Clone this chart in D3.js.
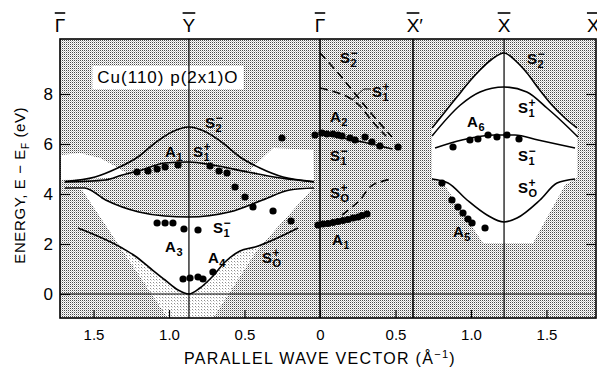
<!DOCTYPE html>
<html>
<head>
<meta charset="utf-8">
<script src="https://cdn.jsdelivr.net/npm/d3@7/dist/d3.min.js"></script>
<style>
  body { margin: 0; background: #fff; }
  svg { display: block; font-family: 'Liberation Sans', Arial, sans-serif; }
</style>
</head>
<body>
<div id="chart"></div>
<script>
// k < 0 : the Γ̄ → Ȳ branch (drawn to the left), k > 0 : the Γ̄ → X̄ branch
const xTicks = [-1.5, -1.0, -0.5, 0, 0.5, 1.0, 1.5]
const yTicks = [0, 2, 4, 6, 8]
const symmetryPoints = [
  { k: -1.722, name: 'Γ', prime: false },
  { k: -0.868, name: 'Y', prime: false },
  { k: 0, name: 'Γ', prime: false },
  { k: 0.616, name: 'X', prime: true },
  { k: 1.219, name: 'X', prime: false },
  { k: 1.81, name: 'X', prime: false }
]
const zoneLines = [-0.868, 0, 0.616, 1.219]

// calculated surface bands, [k, E]
const s2MinusY = [[-1.69, 4.5], [-1.49, 4.68], [-1.34, 5.04], [-1.206, 5.48], [-1.093, 6.04], [-0.981, 6.48], [-0.868, 6.68], [-0.755, 6.48], [-0.643, 6.04], [-0.53, 5.48], [-0.398, 5.04], [-0.245, 4.68], [-0.04, 4.5]]
const s1PlusY = [[-1.69, 4.48], [-1.42, 4.56], [-1.31, 4.76], [-1.18, 4.96], [-1.03, 5.24], [-0.87, 5.28], [-0.71, 5.16], [-0.48, 4.88], [-0.26, 4.64], [-0.04, 4.48]]
const s1MinusY = [[-1.69, 4.24], [-1.56, 4.24], [-1.42, 3.76], [-1.2, 3.28], [-1.03, 3.12], [-0.87, 3.08], [-0.6, 3.28], [-0.38, 3.76], [-0.2, 4.16], [-0.04, 4.24]]
const s0PlusY = [[-1.603, 2.64], [-1.311, 1.84], [-1.225, 1.52], [-1.126, 1.04], [-1.026, 0.56], [-0.94, 0.16], [-0.868, 0], [-0.795, 0.24], [-0.715, 0.68], [-0.629, 1.28], [-0.53, 1.72], [-0.43, 1.88], [-0.146, 2.64]]

const s1MinusGX = [[0, 6.4], [0.3, 6.06], [0.48, 5.8]]
const s2MinusGXdash = [[0, 9.64], [0.12, 8.84], [0.245, 7.92], [0.36, 7.08], [0.477, 6.28]]
const s1PlusGXdash = [[0, 8.24], [0.099, 8.08], [0.185, 7.88], [0.265, 7.52], [0.344, 6.92], [0.437, 6.32]]
const s0PlusGXdash = [[0.146, 3.16], [0.212, 3.48], [0.265, 3.76], [0.331, 4.28], [0.397, 4.48], [0.477, 4.6]]

const s2MinusX = [[0.742, 6.64], [0.83, 7.3], [0.907, 7.88], [0.99, 8.5], [1.06, 8.96], [1.14, 9.4], [1.219, 9.64], [1.3, 9.3], [1.371, 8.84], [1.45, 8.2], [1.53, 7.6], [1.62, 7.05], [1.702, 6.64]]
const s1PlusX = [[0.742, 6.32], [0.93, 7.56], [1.06, 8.08], [1.219, 8.28], [1.37, 8.08], [1.503, 7.44], [1.556, 7.16], [1.709, 6.28]]
const s1MinusX = [[0.762, 5.84], [0.94, 6.16], [1.159, 6.36], [1.291, 6.36], [1.444, 6.16], [1.689, 5.84]]
const s0PlusX = [[0.742, 4.6], [0.848, 4.44], [0.974, 3.76], [1.106, 3.16], [1.219, 2.88], [1.305, 3.04], [1.457, 3.76], [1.57, 4.44], [1.689, 4.6]]

// measured peaks, [k, E]
const dotsA1Y = [[-1.212, 4.88], [-1.139, 4.92], [-1.079, 5.0], [-1.026, 5.08], [-0.94, 5.16], [-0.728, 5.12], [-0.669, 4.92], [-0.616, 4.84]]
const dotsFallY = [[-0.563, 4.28], [-0.497, 3.88], [-0.444, 3.48], [-0.311, 3.32], [-0.192, 2.92], [-0.252, 6.24]]
const dotsA3 = [[-1.079, 2.84], [-1.026, 2.84], [-0.974, 2.84], [-0.901, 2.6], [-0.808, 2.56]]
const dotsA4 = [[-0.907, 0.6], [-0.861, 0.64], [-0.808, 0.68], [-0.775, 0.6], [-0.709, 0.88]]
const dotsA2 = [[-0.033, 6.36], [0.013, 6.44], [0.046, 6.4], [0.086, 6.4], [0.119, 6.36], [0.146, 6.32], [0.199, 6.24], [0.232, 6.16], [0.298, 6.28], [0.344, 6.08], [0.397, 5.92], [0.517, 5.88]]
const dotsA1GX = [[-0.013, 2.76], [0.02, 2.8], [0.053, 2.82], [0.086, 2.86], [0.119, 2.9], [0.152, 2.94], [0.185, 2.98], [0.219, 3.04], [0.252, 3.08], [0.278, 3.14], [0.311, 3.2]]
const dotsA5 = [[0.808, 4.44], [0.874, 3.76], [0.914, 3.48], [0.947, 3.24], [0.98, 3.0], [1.007, 2.84], [1.093, 2.64]]
const dotsA6 = [[0.881, 5.88], [0.993, 6.16], [1.046, 6.2], [1.113, 6.36], [1.172, 6.28], [1.238, 6.36], [1.318, 6.2]]

// band-gap regions left unshaded, [k, E]
const gapTopLeft = [[-1.715, 5.56], [-1.589, 5.64], [-1.457, 5.44], [-1.358, 5.12], [-1.272, 4.8], [-1.391, 4.64], [-1.715, 4.56]]
const gapTopRight = [[-0.464, 4.96], [-0.311, 5.84], [-0.046, 5.76], [-0.04, 4.48], [-0.199, 4.56], [-0.364, 4.72]]
const gapCentreEdge = [[-0.046, 4.24], [-0.417, 1.76], [-0.709, -0.96], [-1.007, -0.96], [-1.311, 1.76], [-1.576, 4.16]]
const gapXEdge = [[1.702, 4.64], [1.623, 4.36], [1.411, 2.04], [1.079, 2.04], [0.815, 4.44], [0.742, 4.64]]

const bandLabels = [
  { k: -0.762, e: 6.64, m: 'S', sub: '2', sup: '−' },
  { k: -1.026, e: 5.48, m: 'A', sub: '1' },
  { k: -0.841, e: 5.48, m: 'S', sub: '1', sup: '+' },
  { k: -0.709, e: 2.44, m: 'S', sub: '1', sup: '−' },
  { k: -1.026, e: 1.68, m: 'A', sub: '3' },
  { k: -0.742, e: 1.24, m: 'A', sub: '4' },
  { k: -0.384, e: 1.24, m: 'S', sub: 'O', sup: '+' },
  { k: 0.132, e: 9.24, m: 'S', sub: '2', sup: '−' },
  { k: 0.344, e: 7.88, m: 'S', sub: '1', sup: '+' },
  { k: 0.066, e: 6.88, m: 'A', sub: '2' },
  { k: 0.066, e: 5.32, m: 'S', sub: '1', sup: '−' },
  { k: 0.066, e: 3.84, m: 'S', sub: 'O', sup: '+' },
  { k: 0.079, e: 1.96, m: 'A', sub: '1' },
  { k: 1.371, e: 9.2, m: 'S', sub: '2', sup: '−' },
  { k: 1.311, e: 7.24, m: 'S', sub: '1', sup: '+' },
  { k: 0.974, e: 6.68, m: 'A', sub: '6' },
  { k: 1.311, e: 5.32, m: 'S', sub: '1', sup: '−' },
  { k: 1.311, e: 4.04, m: 'S', sub: 'O', sup: '+' },
  { k: 0.881, e: 2.28, m: 'A', sub: '5' }
]
const pointerS1 = [[0.212, 7.76], [0.291, 8.2], [0.338, 8.2]]

const width = 597
const height = 367
const plot = { left: 60, right: 596, top: 39, bottom: 318 }

const x = d3.scaleLinear().domain([-1.722, 1.828]).range([plot.left, plot.right])
const y = d3.scaleLinear().domain([-0.96, 10.2]).range([plot.bottom, plot.top])

const svg = d3.select('#chart').append('svg').attr('width', width).attr('height', height)

const defs = svg.append('defs')
const dark = defs.append('pattern').attr('id', 'stipple').attr('width', 2).attr('height', 2).attr('patternUnits', 'userSpaceOnUse')
dark.append('rect').attr('width', 2).attr('height', 2).attr('fill', '#fff')
dark.append('rect').attr('width', 1).attr('height', 1).attr('fill', '#4a4a4a')
dark.append('rect').attr('x', 1).attr('y', 1).attr('width', 1).attr('height', 1).attr('fill', '#c4c4c4')
const light = defs.append('pattern').attr('id', 'stippleLight').attr('width', 3).attr('height', 3).attr('patternUnits', 'userSpaceOnUse')
light.append('rect').attr('width', 3).attr('height', 3).attr('fill', '#fff')
light.append('rect').attr('width', 1).attr('height', 1).attr('fill', '#8c8c8c')
light.append('rect').attr('x', 1).attr('y', 1).attr('width', 1).attr('height', 1).attr('fill', '#d4d4d4')

const smooth = d3.line().x((d) => x(d[0])).y((d) => y(d[1])).curve(d3.curveMonotoneX)
const poly = d3.line().x((d) => x(d[0])).y((d) => y(d[1]))
const toPts = (arr) => arr.map((d) => `${x(d[0])},${y(d[1])}`).join('L')

defs.append('clipPath').attr('id', 'frameClip').append('rect')
  .attr('x', plot.left).attr('y', plot.top)
  .attr('width', plot.right - plot.left).attr('height', plot.bottom - plot.top)

const gapCentrePath = smooth(s1MinusY) + 'L' + toPts(gapCentreEdge) + 'Z'
defs.append('clipPath').attr('id', 'centreClip').append('path').attr('d', gapCentrePath)

const bg = svg.append('g').attr('clip-path', 'url(#frameClip)')
bg.append('rect')
  .attr('x', plot.left).attr('y', plot.top)
  .attr('width', plot.right - plot.left).attr('height', plot.bottom - plot.top)
  .attr('fill', 'url(#stipple)')

bg.selectAll('.gap')
  .data([gapTopLeft, gapTopRight])
  .join('path')
  .attr('d', (d) => poly(d) + 'Z')
  .attr('fill', '#fff')
bg.append('path').attr('d', gapCentrePath).attr('fill', '#fff')
bg.append('path')
  .attr('d', smooth(s0PlusY) + `L${x(-0.146)},${plot.bottom}L${x(-1.603)},${plot.bottom}Z`)
  .attr('clip-path', 'url(#centreClip)')
  .attr('fill', 'url(#stippleLight)')
bg.append('path')
  .attr('d', smooth(s2MinusX) + 'L' + toPts(gapXEdge) + 'Z')
  .attr('fill', '#fff')

// sample caption in a white box
const caption = svg.append('text')
  .attr('x', x(-1.007)).attr('y', y(8.44))
  .attr('text-anchor', 'middle')
  .style('font-size', '17px')
  .style('letter-spacing', '1px')
  .text('Cu(110) p(2x1)O')
const cb = caption.node().getBBox()
svg.insert('rect', 'text')
  .attr('x', cb.x - 5).attr('y', cb.y - 2)
  .attr('width', cb.width + 10).attr('height', cb.height + 4)
  .attr('fill', '#fff')

// zone boundaries and the Fermi level
svg.append('g')
  .selectAll('line')
  .data(zoneLines)
  .join('line')
  .attr('x1', (d) => x(d)).attr('x2', (d) => x(d))
  .attr('y1', plot.top).attr('y2', plot.bottom)
  .attr('stroke', '#000')
  .attr('stroke-width', (d) => (d === 0 || d === 0.616 ? 1.6 : 1.2))
svg.append('line')
  .attr('x1', plot.left).attr('x2', plot.right)
  .attr('y1', y(0)).attr('y2', y(0))
  .attr('stroke', '#000').attr('stroke-width', 1.2)

const curves = svg.append('g').attr('fill', 'none').attr('stroke', '#000').attr('stroke-width', 1.6)
curves.selectAll('.solid')
  .data([s2MinusY, s1PlusY, s1MinusY, s0PlusY, s1MinusGX, s2MinusX, s1PlusX, s1MinusX, s0PlusX])
  .join('path')
  .attr('class', 'solid')
  .attr('d', (d) => smooth(d))
curves.selectAll('.dash')
  .data([s2MinusGXdash, s1PlusGXdash, s0PlusGXdash])
  .join('path')
  .attr('class', 'dash')
  .attr('stroke-dasharray', '8,5')
  .attr('d', (d) => smooth(d))
curves.append('path').attr('stroke-width', 0.9).attr('d', poly(pointerS1))

svg.append('g')
  .selectAll('circle')
  .data([].concat(dotsA1Y, dotsFallY, dotsA3, dotsA4, dotsA2, dotsA1GX, dotsA5, dotsA6))
  .join('circle')
  .attr('cx', (d) => x(d[0]))
  .attr('cy', (d) => y(d[1]))
  .attr('r', 3.6)
  .attr('fill', '#000')

// band labels: main letter with stacked subscript and superscript
const labG = svg.append('g').style('font-weight', 'bold')
bandLabels.forEach((d) => {
  const px = x(d.k)
  const py = y(d.e)
  const t = labG.append('text').attr('x', px).attr('y', py).style('font-size', '15px').text(d.m)
  const w = t.node().getComputedTextLength()
  labG.append('text').attr('x', px + w + 0.5).attr('y', py + 3.5).style('font-size', '11px').text(d.sub)
  if (d.sup) {
    labG.append('text').attr('x', px + w + 0.5).attr('y', py - 6.5).style('font-size', '12px').text(d.sup)
  }
})

// axes
const gx = svg.append('g')
  .attr('transform', `translate(0,${plot.bottom})`)
  .call(d3.axisBottom(x).tickValues(xTicks).tickSize(-8).tickPadding(11)
    .tickFormat((d) => (d === 0 ? '0' : Math.abs(d).toFixed(1))))
gx.select('.domain').remove()
gx.selectAll('line').attr('stroke-width', 1.2)
gx.selectAll('text').style('font-size', '15px').attr('fill', '#000')

const gy = svg.append('g')
  .attr('transform', `translate(${plot.left},0)`)
  .call(d3.axisLeft(y).tickValues(yTicks).tickSize(-10).tickPadding(7))
gy.select('.domain').remove()
gy.selectAll('line').attr('stroke-width', 1.2)
gy.selectAll('text').style('font-size', '17px').attr('fill', '#000')

const gr = svg.append('g')
  .attr('transform', `translate(${plot.right},0)`)
  .call(d3.axisRight(y).tickValues(yTicks.filter((d) => d > 0)).tickSize(-10).tickFormat(''))
gr.select('.domain').remove()
gr.selectAll('line').attr('stroke-width', 1.2)

svg.append('rect')
  .attr('x', plot.left).attr('y', plot.top)
  .attr('width', plot.right - plot.left).attr('height', plot.bottom - plot.top)
  .attr('fill', 'none').attr('stroke', '#000').attr('stroke-width', 1.6)

// symmetry point labels with overbars
const sym = svg.append('g')
symmetryPoints.forEach((d) => {
  const t = sym.append('text')
    .attr('x', x(d.k)).attr('y', 32)
    .attr('text-anchor', 'middle')
    .style('font-size', '19px')
    .text(d.name)
  const w = t.node().getComputedTextLength()
  sym.append('line')
    .attr('x1', x(d.k) - w / 2).attr('x2', x(d.k) + w / 2)
    .attr('y1', 13).attr('y2', 13)
    .attr('stroke', '#000').attr('stroke-width', 1.6)
  if (d.prime) {
    sym.append('text').attr('x', x(d.k) + w / 2).attr('y', 32).style('font-size', '19px').text('′')
  }
})

const xTitle = svg.append('text')
  .attr('x', x(0)).attr('y', 364)
  .attr('text-anchor', 'middle')
  .style('font-size', '16px')
  .style('letter-spacing', '1.3px')
xTitle.append('tspan').text('PARALLEL WAVE VECTOR (Å')
xTitle.append('tspan').attr('dy', -6).style('font-size', '11px').text('−1')
xTitle.append('tspan').attr('dy', 6).text(')')

const yTitle = svg.append('text')
  .attr('transform', `translate(25,${y(4.35)}) rotate(-90)`)
  .attr('text-anchor', 'middle')
  .style('font-size', '15px')
  .style('letter-spacing', '0.6px')
yTitle.append('tspan').text('ENERGY, E − E')
yTitle.append('tspan').attr('dy', 4).style('font-size', '10px').text('F')
yTitle.append('tspan').attr('dy', -4).text(' (eV)')
</script>
</body>
</html>
